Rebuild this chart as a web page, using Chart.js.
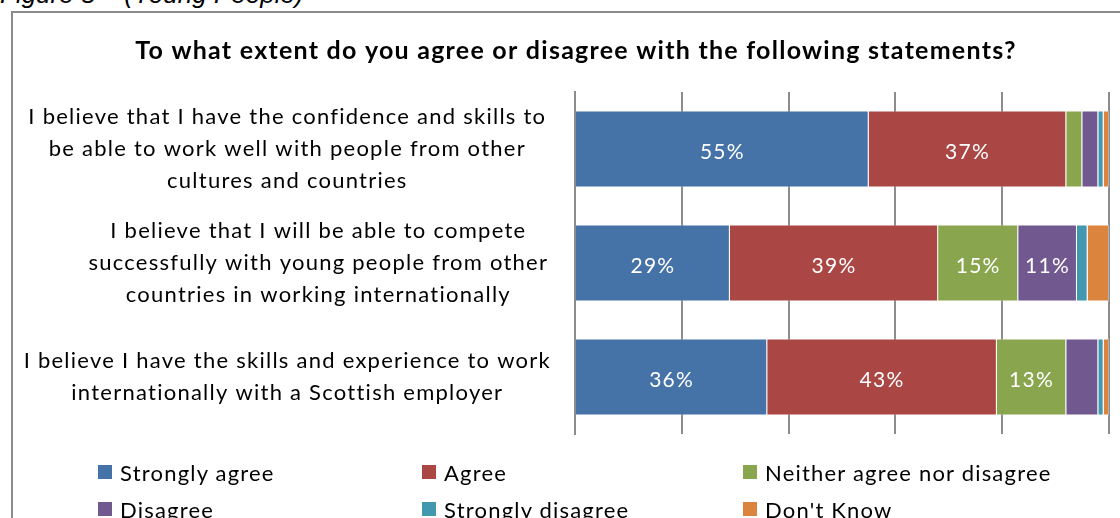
<!DOCTYPE html>
<html>
<head>
<meta charset="utf-8">
<script src="https://cdn.jsdelivr.net/npm/chart.js@4.4.1/dist/chart.umd.min.js"></script>
<style>
  html, body { margin: 0; padding: 0; width: 1120px; height: 518px; overflow: hidden; background: #fff; }
  #caption { position: absolute; left: 0; top: -19px; font: italic 26px "Liberation Sans", Arial, sans-serif; line-height: 26px; color: #000; white-space: nowrap; }
  #frame { position: absolute; left: 11px; top: 11px; width: 1140px; height: 530px; border-left: 2px solid #8c8c8c; border-top: 2px solid #8c8c8c; }
  #chartBox { position: absolute; left: 0; top: 0; width: 1126px; height: 520px; }
  #legend { position: absolute; left: 0; top: 0; width: 1120px; height: 518px; pointer-events: none; }
  .item { position: absolute; display: flex; align-items: center; font: 22px Lato, "Open Sans", sans-serif; letter-spacing: 1.2px; color: #000; white-space: nowrap; height: 30px; }
  .swatch { width: 14px; height: 14px; margin-right: 8px; }
</style>
</head>
<body>
<div id="caption">Figure 8 – (Young People)</div>
<div id="frame">
  <div id="chartBox"><canvas id="chart" width="1126" height="520"></canvas></div>
</div>
<div id="legend"></div>
<script>
// Survey statements (one horizontal bar each)
const statements = [
  ['I believe that I have the confidence and skills to', 'be able to work well with people from other', 'cultures and countries'],
  ['I believe that I will be able to compete', 'successfully with young people from other', 'countries in working internationally'],
  ['I believe I have the skills and experience to work', 'internationally with a Scottish employer']
];

// Response shares, percent of respondents, per statement
const stronglyAgree    = [55, 29, 36];
const agree            = [37, 39, 43];
const neitherAgree     = [3, 15, 13];
const disagree         = [3, 11, 6];
const stronglyDisagree = [1, 2, 1];
const dontKnow         = [1, 4, 1];

const responseNames  = ['Strongly agree', 'Agree', 'Neither agree nor disagree', 'Disagree', 'Strongly disagree', "Don't Know"];
const responseColors = ['#4572A7', '#AA4643', '#89A54E', '#71588F', '#4198AF', '#DB843D'];
const responseValues = [stronglyAgree, agree, neitherAgree, disagree, stronglyDisagree, dontKnow];

const axisTicks = [0, 20, 40, 60, 80, 100];

// Horizontal nudge (px) of each statement's text block
const statementShift = [0, 31, 0];

// Slightly open tracking for all canvas text
const textTracking = {
  id: 'textTracking',
  beforeUpdate(chart) { chart.ctx.letterSpacing = '1.25px'; },
  beforeDraw(chart) {
    chart.ctx.letterSpacing = '1.25px';
    const items = chart.scales.y.getLabelItems(chart.chartArea);
    items.forEach((it, i) => {
      if (!it._shifted) {
        it.options.translation[0] += statementShift[i] || 0;
        it._shifted = true;
      }
    });
  }
};

// White percentage labels inside segments wide enough to hold them
const segmentLabels = {
  id: 'segmentLabels',
  afterDatasetsDraw(chart) {
    const ctx = chart.ctx;
    ctx.save();
    ctx.font = '21px Lato, "Open Sans", sans-serif';
    ctx.fillStyle = '#ffffff';
    ctx.textAlign = 'center';
    ctx.textBaseline = 'middle';
    chart.data.datasets.forEach((ds, i) => {
      const meta = chart.getDatasetMeta(i);
      meta.data.forEach((bar, j) => {
        const v = ds.data[j];
        if (v < 10) return;
        const p = bar.getProps(['x', 'y', 'base'], true);
        ctx.fillText(v + '%', (p.x + p.base) / 2, p.y + 3);
      });
    });
    ctx.restore();
  }
};

const chart = new Chart(document.getElementById('chart'), {
  type: 'bar',
  data: {
    labels: statements,
    datasets: responseNames.map((name, i) => ({
      label: name,
      data: responseValues[i],
      backgroundColor: responseColors[i],
      borderColor: 'rgba(255,255,255,0.35)',
      borderWidth: 1,
      barPercentage: 0.675,
      categoryPercentage: 1
    }))
  },
  options: {
    indexAxis: 'y',
    responsive: false,
    devicePixelRatio: 1,
    animation: false,
    layout: { padding: { left: 0, right: 0, top: 0, bottom: 99 } },
    plugins: {
      legend: { display: false },
      tooltip: { enabled: false },
      title: {
        display: true,
        text: 'To what extent do you agree or disagree with the following statements?',
        color: '#000',
        font: { family: 'Lato, "Open Sans", sans-serif', size: 25, weight: 'bold', lineHeight: 1.2 },
        padding: { top: 23, bottom: 26 }
      }
    },
    scales: {
      x: {
        stacked: true,
        min: axisTicks[0],
        max: axisTicks[axisTicks.length - 1],
        afterBuildTicks(scale) { scale.ticks = axisTicks.map(v => ({ value: v })); },
        ticks: { display: false },
        grid: { color: '#8c8c8c', lineWidth: 2, drawTicks: false },
        border: { display: false }
      },
      y: {
        stacked: true,
        afterFit(scale) { scale.width = 562; },
        ticks: {
          color: '#000',
          crossAlign: 'center',
          padding: 24,
          font: { family: 'Lato, "Open Sans", sans-serif', size: 22, lineHeight: 32 / 22 }
        },
        grid: { display: false, drawTicks: false },
        border: { display: true, color: '#8c8c8c', width: 2 }
      },
      // empty right-hand margin of the plot
      yRight: {
        type: 'linear',
        position: 'right',
        afterFit(scale) { scale.width = 30; },
        ticks: { display: false },
        grid: { display: false, drawTicks: false },
        border: { display: false }
      }
    }
  },
  plugins: [textTracking, segmentLabels]
});

// Legend laid out in three fixed columns below the plot
const legendCols = [98, 422, 743];
const legendRows = [457, 494];
const legendEl = document.getElementById('legend');
chart.data.datasets.forEach((ds, i) => {
  const item = document.createElement('div');
  item.className = 'item';
  item.style.left = legendCols[i % 3] + 'px';
  item.style.top = legendRows[Math.floor(i / 3)] + 'px';
  const sw = document.createElement('span');
  sw.className = 'swatch';
  sw.style.background = ds.backgroundColor;
  const tx = document.createElement('span');
  tx.textContent = ds.label;
  item.appendChild(sw);
  item.appendChild(tx);
  legendEl.appendChild(item);
});
</script>
</body>
</html>
